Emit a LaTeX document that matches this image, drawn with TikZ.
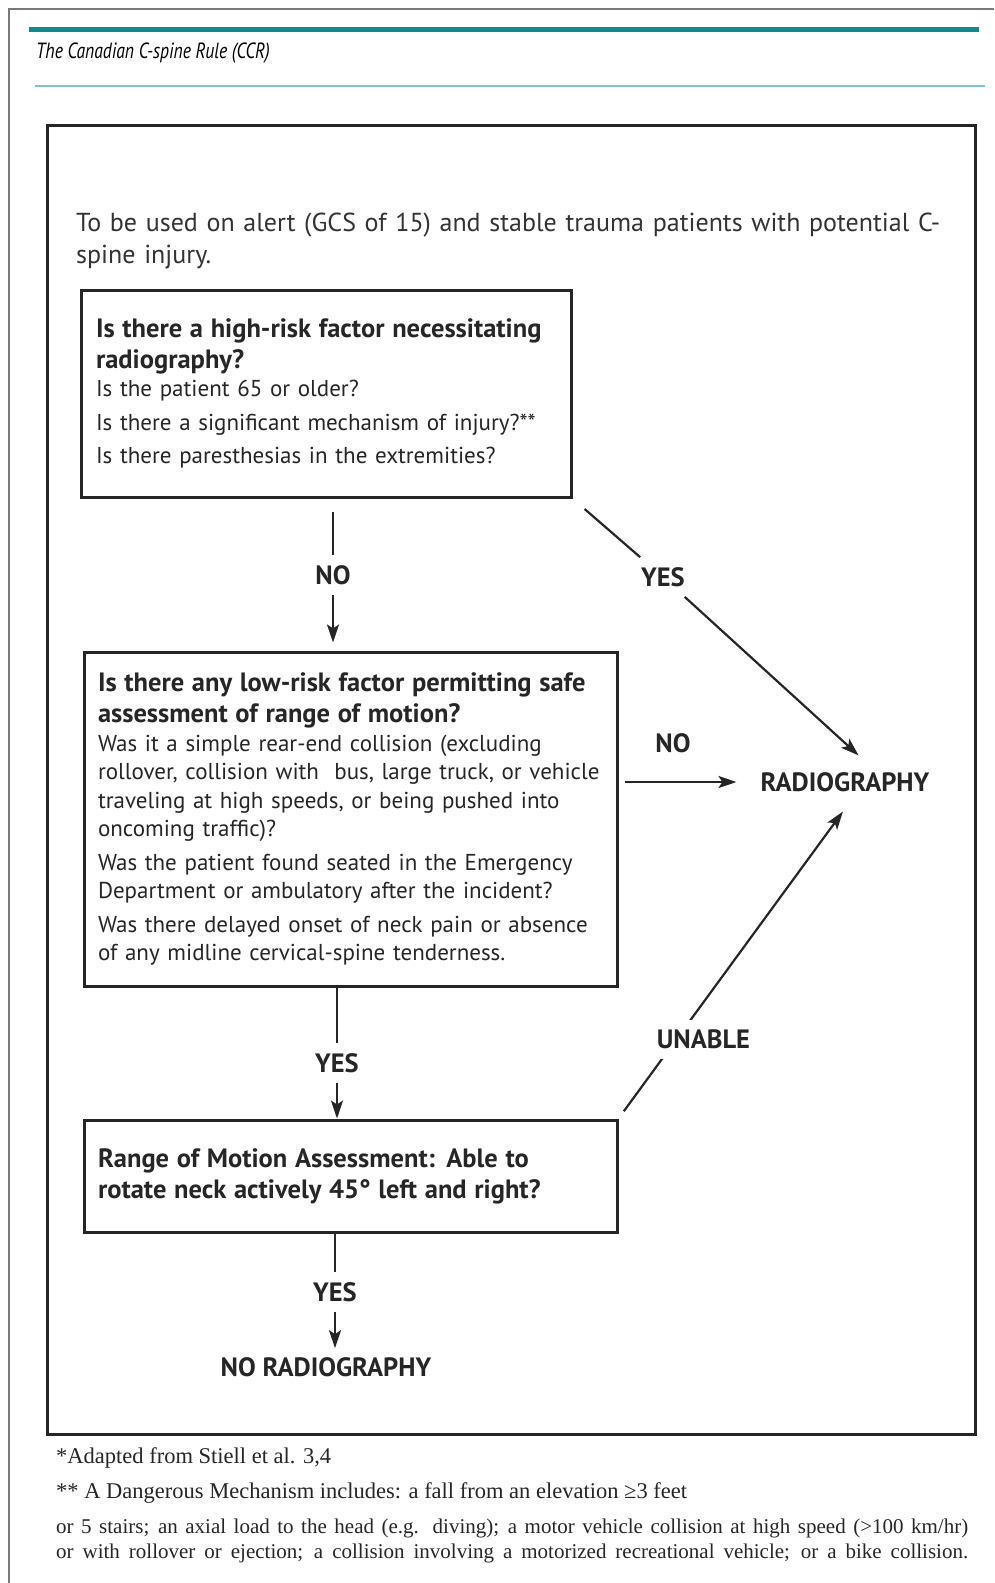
\documentclass[tikz,border=0pt]{standalone}
\usepackage{fontspec}
\setmainfont{PT Sans}
\newfontfamily\headfont[FakeStretch=0.8]{PT Sans}
\newfontfamily\notefont{Liberation Serif}
\usetikzlibrary{arrows.meta}
\definecolor{tealbar}{HTML}{12898D}
\definecolor{tealline}{HTML}{80C4C7}
\definecolor{framegray}{HTML}{7A7A7A}

\tikzset{
  qbox/.style={draw=black!85, line width=3pt, align=left, text=black!85,
    font=\fontsize{23}{28.5}\selectfont},
  lbl/.style={inner sep=10pt, text=black!85, font=\bfseries\fontsize{26.5}{30}\selectfont},
  conn/.style={line width=2.2pt, draw=black!85},
  arr/.style={conn, -{Stealth[length=18pt,width=12pt,inset=4pt]}},
  note/.style={inner sep=0pt, text=black!85, font=\notefont\fontsize{22.5}{25}\selectfont},
}
\newcommand{\qhead}[1]{{\fontsize{26.5}{31}\selectfont\bfseries #1\par}}

\begin{document}
\begin{tikzpicture}[x=1pt,y=-1pt]
    \useasboundingbox (0,0) rectangle (994,1583);
    \draw[framegray, line width=1.5pt] (9,1583) -- (9,9) -- (994,9);
    \fill[tealbar] (29,27) rectangle (979,32);
    \draw[tealline, line width=1.5pt] (35,86) -- (985,86);
    \node[anchor=west, inner sep=0pt, font=\headfont\itshape\fontsize{22}{26}\selectfont] (title) at (36,53.5) {The Canadian C-spine Rule (CCR)};
    \draw[line width=3pt, black!85] (47,125) rectangle (975,1434);

    \node[anchor=north west, inner sep=0pt, text width=890pt, align=left, text=black!80, font=\fontsize{26}{32}\selectfont] (intro) at (76,213) {To be used on alert (GCS of 15) and stable trauma patients with potential C-\\spine injury.};

    \node[qbox, minimum width=490pt, minimum height=207pt, text width=460pt, inner xsep=15pt] (risk) at (326,393.5) {\qhead{Is there a high-risk factor necessitating\\ radiography?}Is the patient 65 or older?\\[5pt]Is there a significant mechanism of injury?**\\[5pt]Is there paresthesias in the extremities?};
    \node[qbox, minimum width=533pt, minimum height=334pt, text width=505pt, inner xsep=14pt] (low) at (350.5,819) {\qhead{Is there any low-risk factor permitting safe\\ assessment of range of motion?}Was it a simple rear-end collision (excluding\\ rollover, collision with\ \ bus, large truck, or vehicle\\ traveling at high speeds, or being pushed into\\ oncoming traffic)?\\[5pt]Was the patient found seated in the Emergency\\ Department or ambulatory after the incident?\\[5pt]Was there delayed onset of neck pain or absence\\ of any midline cervical-spine tenderness.};
    \node[qbox, minimum width=533pt, minimum height=112pt, text width=505pt, inner xsep=14pt] (rom) at (350.5,1176) {\qhead{Range of Motion Assessment: Able to\\ rotate neck actively 45° left and right?}};

    \node[lbl] (no1) at (333,575) {NO};
    \node[lbl] (yes1) at (663,577) {YES};
    \node[lbl] (no2) at (673,743) {NO};
    \node[lbl] (yes2) at (337,1063) {YES};
    \node[lbl] (yes3) at (335,1292) {YES};
    \node[lbl] (radio) at (845,782) {RADIOGRAPHY};
    \node[lbl, inner sep=9pt] (norad) at (326,1367) {NO RADIOGRAPHY};

    \draw[conn, shorten <=13pt] (risk.south -| no1) -- (no1);
    \draw[arr, shorten >=8pt] (no1) -- (low.north -| no1);
    \draw[conn, shorten <=16pt] (risk.south east) -- (yes1);
    \draw[arr, shorten >=10pt] (yes1) -- ([xshift=21pt]radio.north);
    \draw[arr, shorten <=6pt, shorten >=14pt] (low.east |- radio) -- (radio.west);
    \draw[conn] (low.south -| yes2) -- (yes2);
    \draw[arr] (yes2) -- (rom.north -| yes2);
    \draw[arr, shorten <=9pt, shorten >=12pt] (rom.north east) -- node[lbl, fill=white, pos=0.25, xshift=27pt] (unable) {UNABLE} ([xshift=5pt]radio.south);
    \draw[conn] (rom.south -| yes3) -- (yes3);
    \draw[arr] (yes3) -- (norad.north -| yes3);

    \node[note, anchor=base west] (fn1) at (56,1463) {*Adapted from Stiell et al. 3,4};
    \node[note, anchor=base west] (fn2) at (56,1498) {** A Dangerous Mechanism includes: a fall from an elevation ≥3 feet};
    \node[note, anchor=north west, text width=912pt, align=justify, font=\notefont\fontsize{21}{25}\selectfont] (fn3) at (56,1519) {or 5 stairs; an axial load to the head (e.g. diving); a motor vehicle collision at high speed (>100 km/hr)\linebreak or with rollover or ejection; a collision involving a motorized recreational vehicle; or a bike collision.\parfillskip=0pt\par};
\end{tikzpicture}
\end{document}
